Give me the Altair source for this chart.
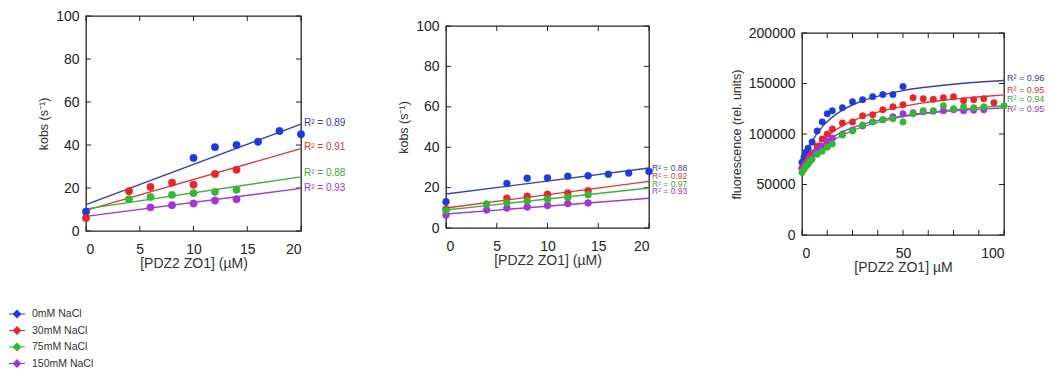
import altair as alt
import pandas as pd

SERIES = ["0mM NaCl", "30mM NaCl", "75mM NaCl", "150mM NaCl"]
POINT_COLORS = ["#2038e0", "#e8252a", "#34b834", "#a632d8"]
LINE_COLORS = ["#3340b5", "#e03535", "#3fb13f", "#9b3bd0"]
LABEL_COLORS = ["#3a3aa8", "#d03a3a", "#3aa83a", "#9a3ac8"]

# ---- Panel A: kobs vs [PDZ2 ZO1] (left) ----
A_PTS_X = [[0, 10, 12, 14, 16, 18, 20], [0, 4, 6, 8, 10, 12, 14],
           [4, 6, 8, 10, 12, 14], [6, 8, 10, 12, 14]]
A_PTS_Y = [[9, 34, 39, 40, 41.5, 46.5, 45], [6, 18.5, 20.5, 22.5, 21.5, 26.5, 28.5],
           [14.8, 15.8, 16.8, 17.6, 18.2, 19.2], [11, 12, 12.8, 14.2, 14.8]]
A_FIT_X = [0, 20]
A_FIT_Y = [[12.3, 49.7], [9.6, 38.3], [10.3, 25.2], [6.8, 19.8]]
A_R2 = ["0.89", "0.91", "0.88", "0.93"]
A_R2_Y = [50.2, 39, 27, 20]
A_XTICKS = [0, 5, 10, 15, 20]
A_YTICKS = [0, 20, 40, 60, 80, 100]

# ---- Panel B: kobs vs [PDZ2 ZO1] (middle) ----
B_PTS_X = [[0, 6, 8, 10, 12, 14, 16, 18, 20], [0, 6, 8, 10, 12, 14],
           [0, 4, 6, 8, 10, 12, 14], [0, 4, 6, 8, 10, 12, 14]]
B_PTS_Y = [[13, 22, 24.6, 24.8, 25.6, 25.9, 26.6, 27.2, 28],
           [9.4, 14.8, 15.7, 16.7, 17.3, 18.5],
           [8.6, 11.9, 12.6, 13.4, 14.2, 15.2, 16.5],
           [6.4, 8.9, 9.9, 10.4, 11.1, 12.1, 12.4]]
B_FIT_X = [0, 20]
B_FIT_Y = [[16.8, 29.7], [9.9, 23.1], [8.9, 19.8], [6.9, 14.7]]
B_R2 = ["0.88", "0.92", "0.97", "0.93"]
B_R2_Y = [29.6, 25.8, 22.0, 18.2]
B_XTICKS = [0, 5, 10, 15, 20]
B_YTICKS = [0, 20, 40, 60, 80, 100]

# ---- Panel C: fluorescence vs [PDZ2 ZO1] (right) ----
C_PTS_X = [
    [0, 1, 2, 3, 5, 7.5, 10, 12.5, 15, 20, 25, 30, 35, 40, 45, 50],
    [0, 1, 2, 3, 4, 5, 7.5, 10, 12.5, 15, 20, 25, 30, 35, 40, 45, 50, 55, 60, 65, 70, 75, 80, 85, 90, 95],
    [0, 1, 2, 3, 4, 5, 7.5, 10, 12.5, 15, 20, 25, 30, 35, 40, 45, 50, 55, 60, 65, 70, 75, 80, 85, 90, 100],
    [0, 2, 4, 6, 8, 10, 12.5, 15, 20, 25, 30, 35, 40, 45, 50, 55, 60, 65, 70, 75, 80, 85, 90],
]
C_PTS_Y = [
    [72000, 77000, 82000, 86000, 92000, 103000, 112000, 120000, 123000, 126000, 132000, 134000, 137000, 139000, 139000, 147000],
    [66000, 69000, 72000, 75000, 78000, 81000, 88000, 95000, 100000, 105000, 111000, 112000, 118000, 119000, 124000, 127000, 129000,
     136000, 135000, 134500, 136000, 137000, 133000, 134000, 135000, 131000],
    [62000, 65000, 68000, 70000, 73000, 75000, 80000, 83000, 87000, 90000, 99000, 103000, 109000, 112000, 114000, 115000, 112000,
     120000, 123000, 123000, 128000, 125000, 127000, 126000, 127000, 128000],
    [66000, 71000, 76000, 81000, 85000, 88000, 93000, 96000, 100000, 104000, 108000, 112000, 114000, 117000, 120000, 121000,
     122000, 122500, 123000, 124000, 123000, 123500, 124000],
]
C_FIT_X = [0, 2, 5, 10, 15, 20, 30, 40, 50, 60, 70, 80, 90, 100]
C_FIT_Y = [
    [70000, 80700, 93000, 107100, 116700, 123600, 132900, 138800, 143000, 146000, 148300, 150200, 151700, 153000],
    [67000, 74100, 82750, 93700, 101800, 108000, 116900, 123000, 127400, 130800, 133400, 135500, 137200, 138700],
    [63000, 68900, 76300, 85900, 93200, 98800, 107100, 112800, 117000, 120200, 122800, 124800, 126600, 128000],
    [66000, 71500, 79000, 89000, 96500, 102000, 109500, 114500, 118000, 120500, 122300, 123700, 124900, 125800],
]
C_R2 = ["0.96", "0.95", "0.94", "0.95"]
C_R2_Y = [155400, 143500, 134600, 124700]
C_XLABELS = [0, 50, 100]
C_XTICKS = [0, 12.5, 25, 37.5, 50, 62.5, 75, 87.5, 100]
C_YTICKS = [0, 50000, 100000, 150000, 200000]

DRAW_ORDER = [0, 1, 3, 2]  # purple drawn before green
INK = "#222"


def points_df(xs, ys):
    rows = []
    k = 0
    for i in DRAW_ORDER:
        for x, y in zip(xs[i], ys[i]):
            rows.append({"x": x, "y": y, "series": SERIES[i], "idx": k})
            k += 1
    return pd.DataFrame(rows)


def fit_df(fx, fys):
    rows = []
    for i, fy in enumerate(fys):
        for x, y in zip(fx, fy):
            rows.append({"x": x, "y": y, "series": SERIES[i], "col": LINE_COLORS[i]})
    return pd.DataFrame(rows)


def r2_df(xmax, texts, ys):
    return pd.DataFrame({"x": [xmax] * 4, "y": ys, "col": LABEL_COLORS,
                         "label": ["R\u00b2 = " + t for t in texts]})


LEGEND = alt.Legend(
    title=None, orient="none", legendX=-78, legendY=289, direction="vertical",
    symbolType="M-1,0L1,0M0,-0.45L0.45,0L0,0.45L-0.45,0Z", symbolSize=256,
    symbolStrokeWidth=1.2, labelFontSize=10.5, labelColor="#333", labelOffset=6,
    rowPadding=1.5, padding=0,
)
CSCALE = alt.Scale(domain=SERIES, range=POINT_COLORS)
FILL = alt.Fill("series:N", scale=CSCALE, sort=SERIES, legend=LEGEND)
STROKE = alt.Stroke("series:N", scale=CSCALE, sort=SERIES, legend=LEGEND)


def panel(pts, fits, r2, xdom, ydom, xlab_vals, ylab_vals, xtick_vals, ytick_vals,
          w, h, xtitle, ytitle, psize, curve, r2size, yfmt=None):
    xs = alt.Scale(domain=xdom, nice=False, zero=False)
    ys = alt.Scale(domain=ydom, nice=False, zero=False)
    yaxis_kw = dict(values=ylab_vals, title=ytitle, ticks=False, domain=False, grid=False,
                    labelPadding=7, titlePadding=5)
    if yfmt:
        yaxis_kw["format"] = yfmt
    main = alt.Chart(pts).mark_point(opacity=0).encode(
        x=alt.X("x:Q", scale=xs, axis=alt.Axis(values=xlab_vals, title=xtitle, ticks=False,
                                                domain=False, grid=False, labelPadding=11,
                                                titlePadding=0)),
        y=alt.Y("y:Q", scale=ys, axis=alt.Axis(**yaxis_kw)),
    )
    xt = pd.DataFrame({"x": xtick_vals})
    yt = pd.DataFrame({"y": ytick_vals})
    xbot = alt.Chart(xt).mark_rule(color=INK, strokeWidth=1).encode(
        x=alt.X("x:Q", scale=xs), y=alt.value(h), y2=alt.value(h - 5))
    xtop = alt.Chart(xt).mark_rule(color=INK, strokeWidth=1).encode(
        x=alt.X("x:Q", scale=xs), y=alt.value(0), y2=alt.value(5))
    yleft = alt.Chart(yt).mark_rule(color=INK, strokeWidth=1).encode(
        y=alt.Y("y:Q", scale=ys), x=alt.value(0), x2=alt.value(5))
    yright = alt.Chart(yt).mark_rule(color=INK, strokeWidth=1).encode(
        y=alt.Y("y:Q", scale=ys), x=alt.value(w - 5), x2=alt.value(w))
    lines = alt.Chart(fits).mark_line(strokeWidth=1.4, interpolate="monotone" if curve else "linear").encode(
        x=alt.X("x:Q", scale=xs),
        y=alt.Y("y:Q", scale=ys),
        detail="series:N",
        color=alt.Color("col:N", scale=None),
    )
    dots = alt.Chart(pts).mark_point(filled=True, shape="circle", size=psize, opacity=1,
                                     strokeWidth=0.5).encode(
        x=alt.X("x:Q", scale=xs),
        y=alt.Y("y:Q", scale=ys),
        fill=FILL,
        stroke=STROKE,
        order=alt.Order("idx:Q"),
    )
    texts = alt.Chart(r2).mark_text(align="left", baseline="middle", dx=3, fontSize=r2size).encode(
        x=alt.X("x:Q", scale=xs),
        y=alt.Y("y:Q", scale=ys),
        text="label:N",
        color=alt.Color("col:N", scale=None),
    )
    return alt.layer(main, xbot, xtop, yleft, yright, lines, dots, texts).properties(width=w, height=h)


def spacer():
    return alt.Chart(pd.DataFrame({"a": [0]})).mark_point(opacity=0, size=0).encode(
        x=alt.X("a:Q", axis=None), y=alt.Y("a:Q", axis=None)
    ).properties(width=1, height=1, view=alt.ViewBackground(strokeOpacity=0))


A = panel(points_df(A_PTS_X, A_PTS_Y), fit_df(A_FIT_X, A_FIT_Y), r2_df(20, A_R2, A_R2_Y),
          [0, 20], [0, 100], A_XTICKS, A_YTICKS, A_XTICKS, A_YTICKS, 215, 215,
          "[PDZ2 ZO1] (\u00b5M)", "kobs (s\u207b\u00b9)", 55, False, 10)
B = panel(points_df(B_PTS_X, B_PTS_Y), fit_df(B_FIT_X, B_FIT_Y), r2_df(20, B_R2, B_R2_Y),
          [0, 20], [0, 100], B_XTICKS, B_YTICKS, B_XTICKS, B_YTICKS, 203, 202,
          "[PDZ2 ZO1] (\u00b5M)", "kobs (s\u207b\u00b9)", 48, False, 8.5)
C = panel(points_df(C_PTS_X, C_PTS_Y), fit_df(C_FIT_X, C_FIT_Y), r2_df(100, C_R2, C_R2_Y),
          [0, 100], [0, 200000], C_XLABELS, C_YTICKS, C_XTICKS, C_YTICKS,
          202, 202, "[PDZ2 ZO1] \u00b5M", "fluorescence (rel. units)", 42, True, 9, yfmt="d")

Bcol = alt.vconcat(spacer(), B, spacing=1)
Ccol = alt.vconcat(spacer(), C, spacing=8)

chart = alt.hconcat(alt.hconcat(A, Bcol, spacing=49), Ccol, spacing=41).properties(
    padding={"left": 0, "top": 0, "right": 0, "bottom": 0}
).configure(font="Liberation Sans").configure_view(
    stroke=INK, strokeWidth=1.3
).configure_axis(
    labelFontSize=14, titleFontSize=12.5, labelColor=INK, titleColor="#333",
    titleFontWeight="normal"
).configure_axisX(titleFontSize=14)

chart.save("out.html", embed_options={"renderer": "svg", "actions": False})
